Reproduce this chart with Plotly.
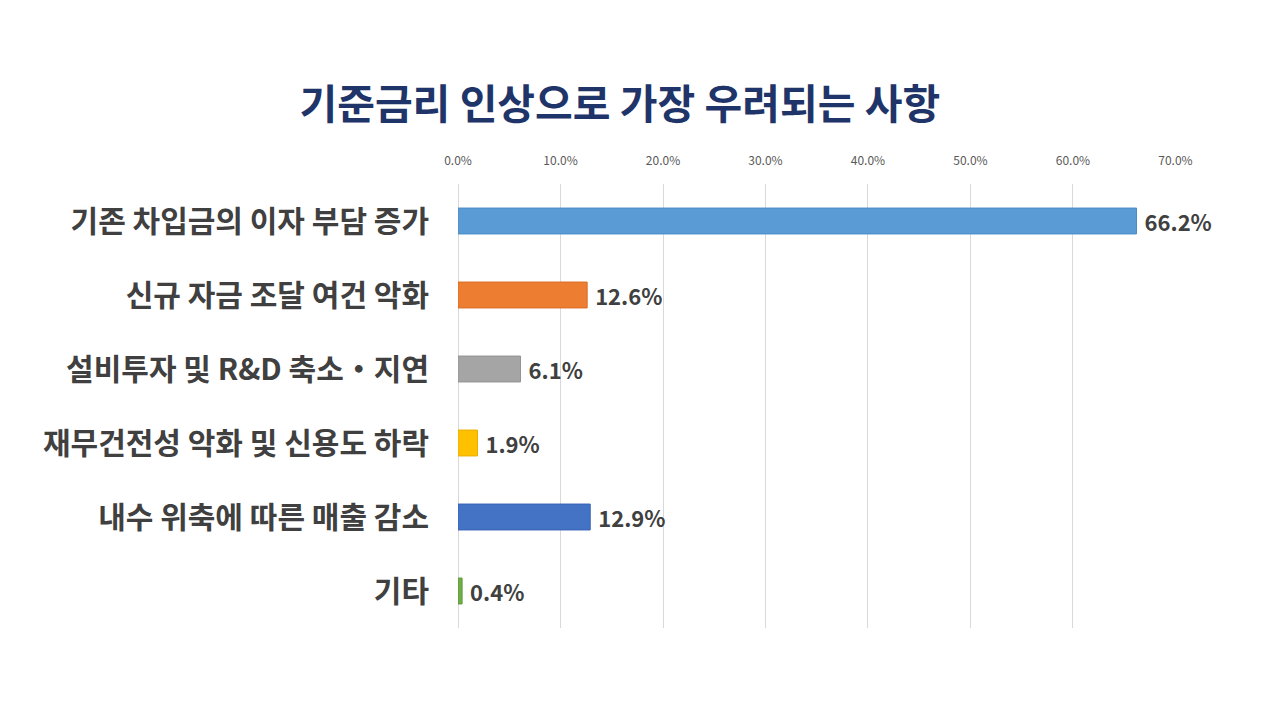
import plotly.graph_objects as go

# data
categories = ["기존 차입금의 이자 부담 증가", "신규 자금 조달 여건 악화", "설비투자 및 R&D 축소・지연",
              "재무건전성 악화 및 신용도 하락", "내수 위축에 따른 매출 감소", "기타"]
values = [66.2, 12.6, 6.1, 1.9, 12.9, 0.4]
colors = ["#5B9BD5", "#ED7D31", "#A5A5A5", "#FFC000", "#4472C4", "#70AD47"]
borders = ["#4A8BC8", "#D96C22", "#939393", "#E8AE00", "#3763B5", "#5E9A3A"]
tick_vals = [0, 10, 20, 30, 40, 50, 60, 70]

font_kr = "Noto Sans CJK KR"

fig = go.Figure()
fig.add_trace(go.Bar(
    x=values,
    y=categories,
    orientation="h",
    marker=dict(color=colors, line=dict(color=borders, width=1)),
    text=[f" {v:.1f}%" for v in values],
    textposition="outside",
    constraintext="none",
    textfont=dict(family=font_kr, size=22, color="#404040", weight="bold"),
    cliponaxis=False,
    hoverinfo="skip",
))

# page body adds an 8px offset, margins are set with that in mind
fig.update_layout(
    width=1280, height=720,
    paper_bgcolor="white", plot_bgcolor="white",
    margin=dict(l=450, r=112, t=176, b=100, autoexpand=False),
    bargap=0.65,
    showlegend=False,
    title=dict(text="<b>기준금리 인상으로 가장 우려되는 사항</b>",
               x=0.478, xanchor="center", y=0.866, yanchor="middle",
               font=dict(family=font_kr, size=41, color="#1F3468")),
)

fig.update_xaxes(
    range=[0, 70.05], side="top", automargin=False,
    tickvals=tick_vals, ticktext=[f"{t:.1f}%" for t in tick_vals],
    tickfont=dict(family=font_kr, size=12, color="#595959"),
    showgrid=True, gridcolor="#D9D9D9", gridwidth=1,
    zeroline=True, zerolinecolor="#D9D9D9", zerolinewidth=1,
    showline=False, ticks="", ticklabelstandoff=16,
)

fig.update_yaxes(
    autorange="reversed", automargin=False,
    tickfont=dict(family=font_kr, size=30, color="#404040", weight=600),
    showgrid=False, showline=False, ticks="", ticklabelstandoff=28,
)

fig.write_html("out.html")
